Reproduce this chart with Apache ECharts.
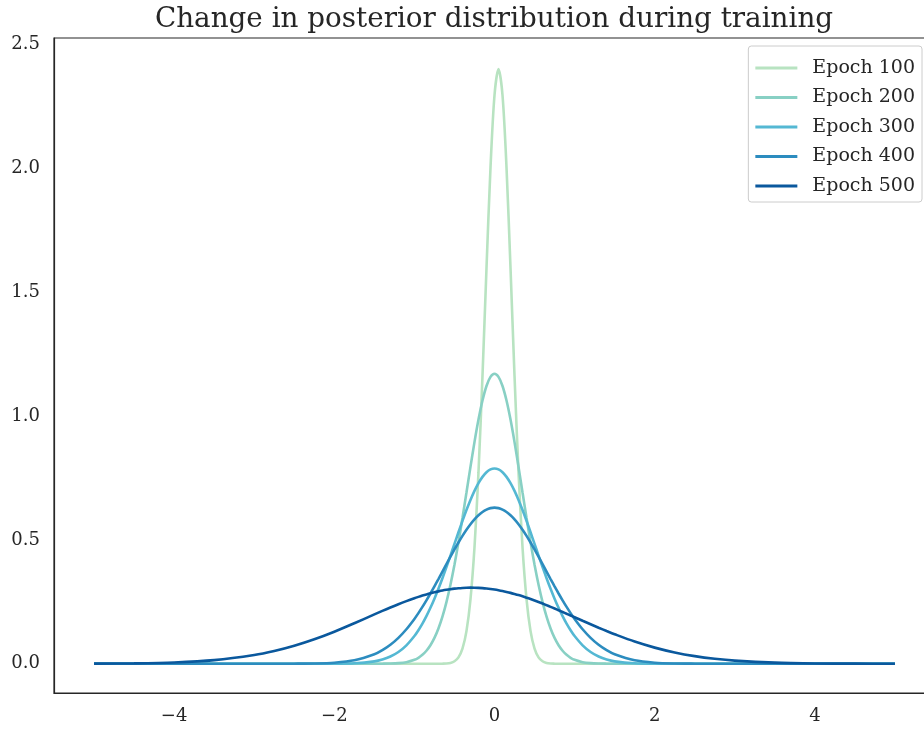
<!DOCTYPE html>
<html>
<head>
<meta charset="utf-8">
<script src="https://cdn.jsdelivr.net/npm/echarts@6/dist/echarts.min.js"></script>
<style>html,body{margin:0;padding:0;background:#fff;}#c{width:924px;height:729px;}</style>
</head>
<body>
<div id="c"></div>
<script>
const title = 'Change in posterior distribution during training';
const seriesNames = ['Epoch 100', 'Epoch 200', 'Epoch 300', 'Epoch 400', 'Epoch 500'];
const colors = ['#b8e3c1', '#88d0c4', '#54b8d3', '#2c8cbf', '#0a589d'];
const xTicks = [-4, -2, 0, 2, 4];
const yTicks = [0, 0.5, 1.0, 1.5, 2.0, 2.5];

const xs = [-5, -4.5, -4, -3.5, -3, -2.75, -2.5, -2.25, -2, -1.75, -1.5, -1.4, -1.3, -1.2, -1.1,
  -1.0, -0.95, -0.9, -0.85, -0.8, -0.75, -0.7, -0.65, -0.6, -0.55, -0.5, -0.45, -0.4, -0.35, -0.3, -0.25, -0.2, -0.15, -0.1, -0.05,
  0, 0.05, 0.1, 0.15, 0.2, 0.25, 0.3, 0.35, 0.4, 0.45, 0.5, 0.55, 0.6, 0.65, 0.7, 0.75, 0.8, 0.85, 0.9, 0.95, 1.0,
  1.1, 1.2, 1.3, 1.4, 1.5, 1.75, 2, 2.25, 2.5, 2.75, 3, 3.5, 4, 4.5, 5];

const epoch100 = [0, 0, 0, 0, 0, 0, 0, 0, 0, 0, 0, 0, 0, 0, 0,
  0, 0, 0, 0, 0, 0, 0, 0.0003, 0.0011, 0.0035, 0.0099, 0.0257, 0.0609, 0.1317, 0.260, 0.469, 0.772, 1.161, 1.596, 2.002,
  2.294, 2.400, 2.294, 2.002, 1.596, 1.161, 0.772, 0.469, 0.260, 0.1317, 0.0609, 0.0257, 0.0099, 0.0035, 0.0011, 0.0003, 0, 0, 0, 0, 0,
  0, 0, 0, 0, 0, 0, 0, 0, 0, 0, 0, 0, 0, 0, 0];

const epoch200 = [0, 0, 0, 0, 0, 0, 0, 0, 0, 0, 0.0001, 0.0003, 0.0008, 0.0024, 0.0064,
  0.0159, 0.0241, 0.0360, 0.0524, 0.0746, 0.1042, 0.1422, 0.1902, 0.2488, 0.3186, 0.3993, 0.4899, 0.5880, 0.6909, 0.7946, 0.8944, 0.9852, 1.0621, 1.1207, 1.1575,
  1.170, 1.1575, 1.1207, 1.0621, 0.9852, 0.8944, 0.7946, 0.6909, 0.5880, 0.4899, 0.3993, 0.3186, 0.2488, 0.1902, 0.1422, 0.1042, 0.0746, 0.0524, 0.0360, 0.0241, 0.0159,
  0.0064, 0.0024, 0.0008, 0.0003, 0.0001, 0, 0, 0, 0, 0, 0, 0, 0, 0, 0];

const epoch300 = [0, 0, 0, 0, 0, 0, 0, 0, 0.0003, 0.0020, 0.0097, 0.0171, 0.0291, 0.0473, 0.0742,
  0.1118, 0.1352, 0.1620, 0.1922, 0.2258, 0.2627, 0.3027, 0.3453, 0.3901, 0.4365, 0.4836, 0.5306, 0.5766, 0.6204, 0.6610, 0.6975, 0.7288, 0.7541, 0.7728, 0.7842,
  0.788, 0.7842, 0.7728, 0.7541, 0.7288, 0.6975, 0.6610, 0.6204, 0.5766, 0.5306, 0.4836, 0.4365, 0.3901, 0.3453, 0.3027, 0.2627, 0.2258, 0.1922, 0.1620, 0.1352, 0.1118,
  0.0742, 0.0473, 0.0291, 0.0171, 0.0097, 0.0020, 0.0003, 0, 0, 0, 0, 0, 0, 0, 0];

const epoch400 = [0, 0, 0, 0, 0, 0.0001, 0.0003, 0.0011, 0.0043, 0.0138, 0.0380, 0.0546, 0.0765, 0.1045, 0.1392,
  0.1809, 0.2043, 0.2293, 0.2558, 0.2835, 0.3123, 0.3418, 0.3719, 0.4020, 0.4319, 0.4612, 0.4893, 0.5160, 0.5407, 0.5631, 0.5827, 0.5993, 0.6126, 0.6222, 0.6280,
  0.630, 0.6280, 0.6222, 0.6126, 0.5993, 0.5827, 0.5631, 0.5407, 0.5160, 0.4893, 0.4612, 0.4319, 0.4020, 0.3719, 0.3418, 0.3123, 0.2835, 0.2558, 0.2293, 0.2043, 0.1809,
  0.1392, 0.1045, 0.0765, 0.0546, 0.0380, 0.0138, 0.0043, 0.0011, 0.0003, 0.0001, 0, 0, 0, 0, 0];

const epoch500 = [0.0004, 0.0016, 0.0052, 0.0146, 0.0350, 0.0512, 0.0724, 0.0985, 0.1292, 0.1634, 0.1991, 0.2132, 0.2270, 0.2403, 0.2528,
  0.2645, 0.2699, 0.2750, 0.2798, 0.2843, 0.2884, 0.2921, 0.2955, 0.2984, 0.3009, 0.3030, 0.3047, 0.3059, 0.3067, 0.3070, 0.3069, 0.3063, 0.3052, 0.3037, 0.3018,
  0.2995, 0.2967, 0.2935, 0.2899, 0.2860, 0.2816, 0.2770, 0.2720, 0.2667, 0.2611, 0.2552, 0.2492, 0.2429, 0.2364, 0.2297, 0.2229, 0.2160, 0.2090, 0.2019, 0.1948, 0.1876,
  0.1733, 0.1592, 0.1453, 0.1319, 0.1190, 0.0896, 0.0651, 0.0455, 0.0307, 0.0199, 0.0125, 0.0044, 0.0013, 0.0004, 0.0001];

const allY = [epoch100, epoch200, epoch300, epoch400, epoch500];
const FONT = 'DejaVu Serif';

const chart = echarts.init(document.getElementById('c'), null, {renderer: 'canvas'});
chart.setOption({
  animation: false,
  backgroundColor: '#ffffff',
  title: {
    text: title, left: 489, top: 1, textAlign: 'center',
    textStyle: {fontFamily: FONT, fontSize: 27.8, fontWeight: 'normal', color: '#262626'}
  },
  legend: {
    data: seriesNames, orient: 'vertical', right: 2, top: 46,
    itemWidth: 42, itemHeight: 3, itemGap: 9.5, padding: [12, 7, 6, 7],
    backgroundColor: 'rgba(255,255,255,0.8)', borderColor: '#cccccc', borderWidth: 1, borderRadius: 3,
    textStyle: {fontFamily: FONT, fontSize: 19, lineHeight: 20, color: '#262626', padding: [0, 0, 0, 10]},
    icon: 'rect'
  },
  grid: {left: 54, top: 38, width: 881, bottom: 36, outerBoundsMode: 'none', containLabel: false,
    show: true, borderColor: '#262626', borderWidth: 1.2, backgroundColor: 'transparent'},
  xAxis: {
    type: 'value', min: -5.5, max: 5.5,
    axisLine: {show: true, onZero: false, lineStyle: {color: '#262626', width: 1.2}},
    axisTick: {show: false},
    splitLine: {show: false},
    axisLabel: {
      customValues: xTicks, margin: 14,
      fontFamily: FONT, fontSize: 18, color: '#262626',
      formatter: v => (v < 0 ? '\u2212' + Math.abs(v) : String(v))
    }
  },
  yAxis: {
    type: 'value', min: -0.118, max: 2.525,
    axisLine: {show: true, onZero: false, lineStyle: {color: '#262626', width: 1.2}},
    axisTick: {show: false},
    splitLine: {show: false},
    axisLabel: {
      customValues: yTicks, margin: 14,
      fontFamily: FONT, fontSize: 18, color: '#262626',
      formatter: v => v.toFixed(1)
    }
  },
  series: seriesNames.map((name, i) => ({
    name: name, type: 'line', showSymbol: false, symbol: 'none', smooth: 0.3,
    data: xs.map((x, j) => [x, allY[i][j]]),
    lineStyle: {color: colors[i], width: 2.6},
    itemStyle: {color: colors[i]},
    z: 2 + i
  }))
});
</script>
</body>
</html>
